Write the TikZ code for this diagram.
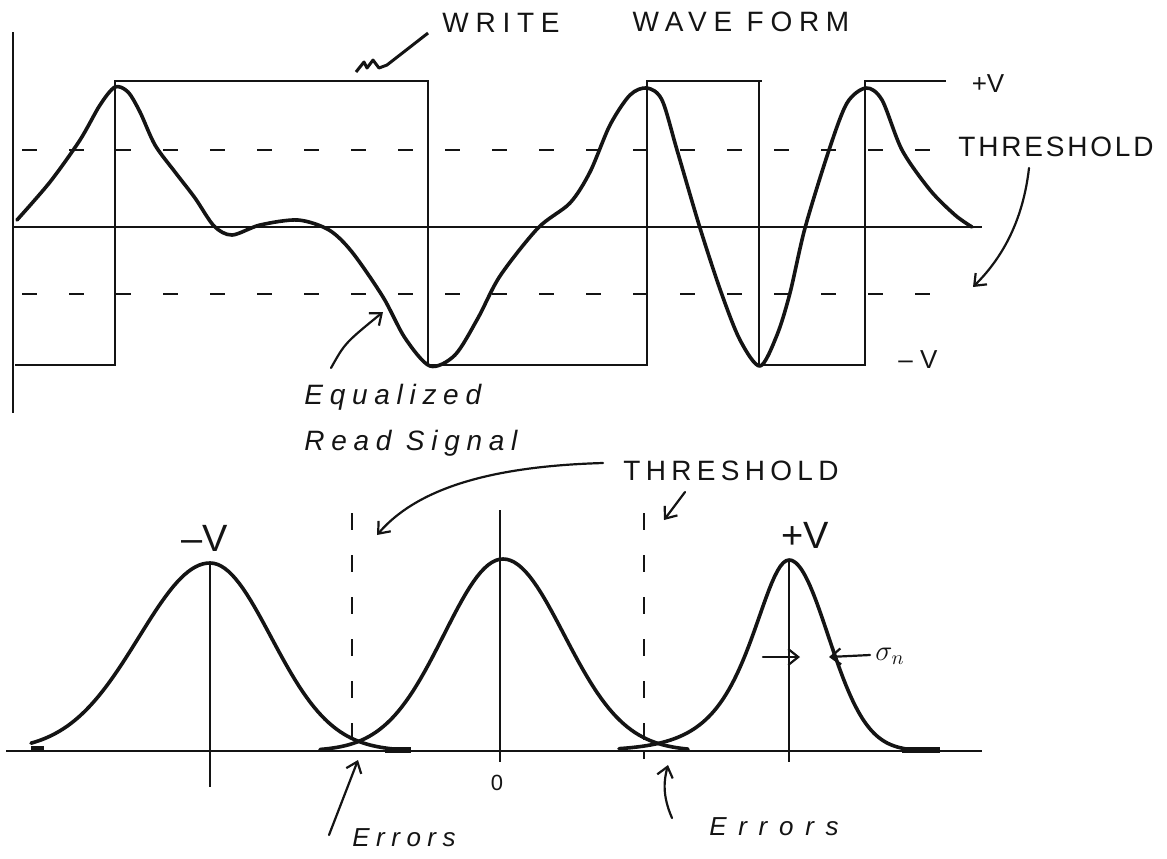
\documentclass[tikz,border=0pt]{standalone}
\usepackage{fontspec}
\setmainfont{Liberation Sans}
\usetikzlibrary{arrows.meta,positioning}
\definecolor{Ink}{RGB}{20,20,20}

\begin{document}
\begin{tikzpicture}[x=0.5pt,y=-0.5pt,color=Ink,
  >={Straight Barb[length=5pt,width=8pt]},
  sig/.style={line width=1.8pt,line join=round,line cap=round},
  wave/.style={line width=1.2pt,line join=miter},
  axis/.style={line width=1.1pt},
  fine/.style={line width=0.75pt},
  thr/.style={line width=1.3pt,dash pattern=on 7.5pt off 16pt},
  vthr/.style={line width=0.9pt,dash pattern=on 8.5pt off 12.5pt},
  tail/.style={line width=2.8pt},
  pointer/.style={line width=1.1pt,->,line cap=round},
  caps/.style={font=\fontsize{14}{16}\selectfont\addfontfeature{LetterSpace=24},inner sep=0pt},
  hand/.style={font=\fontsize{14}{23}\selectfont\itshape\addfontfeature{LetterSpace=24},inner sep=0pt},
  sym/.style={font=\fontsize{13}{15}\selectfont,inner sep=0pt},
  bigsym/.style={font=\fontsize{19}{21}\selectfont,inner sep=0pt},
]
\useasboundingbox (0,0) rectangle (1167,858);
\draw[axis] (13,32) -- (13,413);
\draw[axis] (13,227) -- (982,227);
\draw[thr] (22,150) -- (940,150);
\draw[thr] (22,294) -- (934,294);
\draw[wave] (15,365) -- (115,365) -- (115,81) -- (428,81) -- (428,365) -- (647,365)
  -- (647,81) -- (762,81);
\draw[wave] (759,81) -- (759,365) -- (865,365) -- (865,81) -- (946,81);
\draw[sig] plot[smooth,tension=0.5] coordinates {
  (17,220) (50,182) (80,140) (100,105) (115,87) (128,92) (140,112) (155,145)
  (175,172) (195,198) (214,226) (232,235) (260,225) (298,220) (329,230) (352,252)
  (383,297) (405,338) (430,366) (455,355) (478,318) (500,276) (538,228)
  (570,203) (590,172) (610,125) (630,95) (647,88) (662,100) (677,150)
  (700,228) (721,292) (740,340) (760,366) (777,335) (790,293) (805,228)
  (829,150) (847,103) (866,88) (882,100) (902,150) (930,190) (955,215) (972,227)};

\node[caps] (write) at (501,23) {WRITE};
\node[caps] (wavef) at (741,22) {WAVE FORM};
\node[sym] (pvt) at (988,84) {+V};
\node[sym] (nvt) at (918,360) {-- V};
\node[caps,anchor=west,font=\fontsize{14}{16}\selectfont\addfontfeature{LetterSpace=10}]
  (thtop) at (958,147) {THRESHOLD};
\node[hand,align=left,anchor=west] (eqsig) at (304,420) {Equalized\\Read Signal};

\coordinate (wtip) at (356,72);
\coordinate (thtail) at (1029,168);
\coordinate (thtip) at (973,287);
\coordinate (eqtail) at (331,368);
\coordinate (eqtip) at (383,312);
\draw[line width=1.5pt,line join=round] ([xshift=-7pt]write.south west) -- (387,65)
  -- (379,68) -- (373,60) -- (367,68) -- (364,62) -- (wtip);
\draw[pointer] (thtail) .. controls (1022,230) and (995,265) .. (thtip);
\draw[pointer] (eqtail) .. controls (345,343) .. (eqtip);

\draw[axis] (6,751) -- (982,751);
\draw[fine] (210,563) -- (210,787);
\draw[fine] (500,510) -- (500,762);
\draw[fine] (789,560) -- (789,762);
\draw[fine] (644,751) -- (644,759);
\draw[vthr] (352,513) -- (352,740);
\draw[vthr] (644,513) -- (644,740);
\draw[sig] plot[domain=31:210,samples=50] (\x,{751-188*exp(-0.5*((\x-210)/71)*((\x-210)/71))});
\draw[sig] plot[domain=210:392,samples=50] (\x,{751-188*exp(-0.5*((\x-210)/61)*((\x-210)/61))});
\draw[sig] plot[domain=320:503,samples=50] (\x,{751-192*exp(-0.5*((\x-503)/59)*((\x-503)/59))});
\draw[sig] plot[domain=503:688,samples=50] (\x,{751-192*exp(-0.5*((\x-503)/61)*((\x-503)/61))});
\draw[sig] plot[domain=619:789,samples=60] (\x,{751-191/cosh((\x-789)/33.4)});
\draw[sig] plot[domain=789:905,samples=50] (\x,{751-191*exp(-0.5*((\x-789)/39)*((\x-789)/39))});
\draw[tail] (31,749) -- (44,749);
\draw[tail] (385,750) -- (411,750);
\draw[tail] (902,750) -- (940,750);

\node[bigsym] (nvb) at (205,538) {--V};
\node[bigsym] (pvb) at (805,535) {+V};
\node[sym,font=\fontsize{11}{13}\selectfont] (zero) at (497,783) {0};
\node[font=\fontsize{14}{16}\selectfont,inner sep=0pt] (sigma) at (890,656) {$\sigma_n$};
\node[caps,font=\fontsize{14}{16}\selectfont\addfontfeature{LetterSpace=19}]
  (thbot) at (731,471) {THRESHOLD};
\node[hand,font=\fontsize{13}{16}\selectfont\itshape\addfontfeature{LetterSpace=25}]
  (errl) at (404,838) {Errors};
\node[hand,font=\fontsize{13}{16}\selectfont\itshape\addfontfeature{LetterSpace=45}]
  (errr) at (774,827) {Errors};

\coordinate (thbl) at (603,463);
\coordinate (thbltip) at (377,535);
\coordinate (thbr) at (685,492);
\coordinate (thbrtip) at (664,520);
\coordinate (erltail) at (329,835);
\coordinate (erltip) at (358,760);
\coordinate (errtail) at (672,818);
\coordinate (errtip) at (668,765);
\coordinate (sgl) at (763,657);
\coordinate (sgltip) at (800,657);
\coordinate (sgr) at (870,655);
\coordinate (sgrtip) at (829,657);
\draw[pointer] (thbl) .. controls (500,466) and (420,485) .. (thbltip);
\draw[pointer] (thbr) -- (thbrtip);
\draw[pointer] (erltail) -- (erltip);
\draw[pointer] (errtail) .. controls (662,795) and (664,780) .. (errtip);
\draw[pointer] (sgl) -- (sgltip);
\draw[pointer] (sgr) -- (sgrtip);
\end{tikzpicture}
\end{document}
